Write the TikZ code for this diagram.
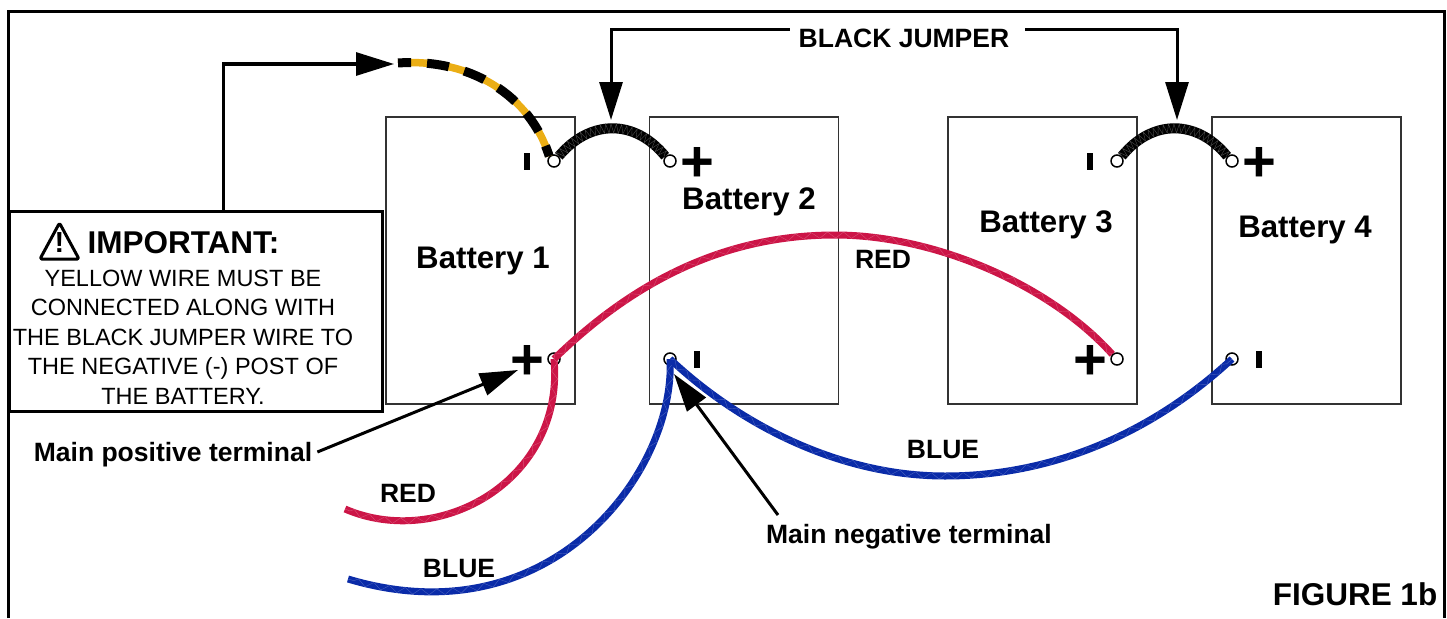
\documentclass[tikz,border=0pt]{standalone}
\usepackage{fontspec}
\setmainfont{Liberation Sans}
\usetikzlibrary{arrows.meta,decorations.pathmorphing}
\definecolor{wirered}{HTML}{CC1547}
\definecolor{wireblue}{HTML}{0A2BA8}
\definecolor{wireyellow}{HTML}{EBAE15}
\tikzset{
  battery/.style={draw=black!80,line width=1.6pt,minimum width=189pt,minimum height=287pt,inner sep=0pt},
  post/.style={circle,draw,fill=white,line width=1.5pt,minimum size=12pt,inner sep=0pt},
  plusmark/.style={font=\bfseries\fontsize{58}{58}\selectfont,inner sep=0pt,text height=40pt,text depth=0pt},
  minusmark/.style={fill=black,minimum width=6pt,minimum height=17pt,inner sep=0pt},
  batname/.style={font=\bfseries\fontsize{31.2}{31.2}\selectfont},
  wirename/.style={font=\bfseries\fontsize{26.5}{26.5}\selectfont,inner sep=0pt},
  leader/.style={->,line width=3pt},
  wire/.style={line width=7pt,postaction={decorate,draw=white,draw opacity=.25,line width=.4pt,
    decoration={zigzag,amplitude=3pt,segment length=16pt}}},
  jumperwire/.style={line width=10pt,postaction={decorate,draw=black!70,line width=.4pt,
    decoration={zigzag,amplitude=4.5pt,segment length=5pt}}},
}
\begin{document}
\begin{tikzpicture}[x=1pt,y=-1pt,>={Triangle[length=38pt,width=23pt]},node distance=27pt]
  \useasboundingbox (0,0) rectangle (1447,618);
  \draw[line width=3pt] (8,618) -- (8,12) -- (1444,12) -- (1444,618);
  % batteries
  \node[battery] (bat1) at (480.5,260.5) {};
  \node[battery] (bat2) at (744,260.5) {};
  \node[battery] (bat3) at (1042.5,260.5) {};
  \node[battery] (bat4) at (1306.5,260.5) {};
  \node[batname] (name1) at (483,261) {Battery 1};
  \node[batname] (name2) at (749,202) {Battery 2};
  \node[batname] (name3) at (1046,225) {Battery 3};
  \node[batname] (name4) at (1305,230) {Battery 4};
  % posts
  \node[post] (neg1) at (554,161) {};
  \node[post] (pos1) at (554,359) {};
  \node[post] (pos2) at (670,161) {};
  \node[post] (neg2) at (670,359) {};
  \node[post] (neg3) at (1117,161) {};
  \node[post] (pos3) at (1117,359) {};
  \node[post] (pos4) at (1232,161) {};
  \node[post] (neg4) at (1232,359) {};
  \node[minusmark] (m1) [left of=neg1] {};
  \node[plusmark] (p1) [left of=pos1] {+};
  \node[plusmark] (p2) [right of=pos2] {+};
  \node[minusmark] (m2) [right of=neg2] {};
  \node[minusmark] (m3) [left of=neg3] {};
  \node[plusmark] (p3) [left of=pos3] {+};
  \node[plusmark] (p4) [right of=pos4] {+};
  \node[minusmark] (m4) [right of=neg4] {};
  % wires
  \coordinate (yellowend) at (398,63);
  \coordinate (redend) at (345,509);
  \coordinate (blueend) at (348,579);
  \draw[line width=7.5pt,wireyellow] (neg1.north west) .. controls (530,95) and (470,58) .. (yellowend);
  \draw[line width=9pt,dash pattern=on 22pt off 16pt,dash phase=11pt] (neg1.north west) .. controls (530,95) and (470,58) .. (yellowend);
  \draw[jumperwire] (neg1.north east) .. controls (590,119) and (635,119) .. (pos2.north west);
  \draw[jumperwire] (neg3.north east) .. controls (1152,119) and (1197,119) .. (pos4.north west);
  \draw[wire,wirered] (pos1.center) .. controls (625,290) and (715,235) .. (835,235)
    .. controls (935,235) and (1050,285) .. (pos3.north west);
  \draw[wire,wirered] (pos1.center) .. controls (565,480) and (440,550) .. (redend);
  \draw[wire,wireblue] (neg2.center) .. controls (676,470) and (552,640) .. (blueend);
  \draw[wire,wireblue] (neg2.center) .. controls (740,425) and (840,476) .. (945,476)
    .. controls (1050,476) and (1150,435) .. (neg4.center);
  % labels
  \node[wirename] (red1) at (883,259) {RED};
  \node[wirename] (red2) at (408,493) {RED};
  \node[wirename] (blue1) at (943,450) {BLUE};
  \node[wirename] (blue2) at (459,569) {BLUE};
  \node[wirename] (jumper) at (904,38) {BLACK JUMPER};
  \node[wirename] (mainpos) at (173,455) {Main positive terminal};
  \node[wirename] (mainneg) at (909,537) {Main negative terminal};
  \node[font=\bfseries\fontsize{31.5}{31.5}\selectfont,inner sep=0pt] (figname) at (1355,594) {FIGURE 1b};
  % notice
  \node[draw,fill=white,line width=3pt,minimum width=373pt,minimum height=200pt,inner sep=0pt] (notice) at (195.5,311) {};
  \node[font=\bfseries\fontsize{31.5}{31.5}\selectfont,inner sep=0pt] (heading) at (183.5,243) {IMPORTANT:};
  \node[align=center,inner sep=0pt,font=\fontsize{23.5}{29.5}\selectfont] (noticetext) at (183,337)
    {YELLOW WIRE MUST BE\\CONNECTED ALONG WITH\\THE BLACK JUMPER WIRE TO\\THE NEGATIVE (-) POST OF\\THE BATTERY.};
  \draw[line width=3pt,line join=round,rounded corners=1.5pt] (59.5,223) -- (79,259) -- (40,259) -- cycle;
  \node[font=\bfseries\fontsize{29}{29}\selectfont,inner sep=0pt] (warn) at (59.5,243) {!};
  % arrows
  \coordinate (jog) at (223,64);
  \coordinate (yellowtip) at (394,64);
  \coordinate (jumpl) at (611,30);
  \coordinate (jumpr) at (1177,30);
  \coordinate (tipl) at (611,120);
  \coordinate (tipr) at (1177,120);
  \coordinate (postip) at (518,370);
  \coordinate (negtip) at (674,374);
  \coordinate (negtail) at (778,515);
  \draw[leader] (notice.north -| jog) -- (jog) -- (yellowtip);
  \draw[leader] (jumper.west) ++(-9,-8) -- (jumpl) -- (tipl);
  \draw[leader] (jumper.east) ++(16,-8) -- (jumpr) -- (tipr);
  \draw[leader] (mainpos.east) ++(5,-3) -- (postip);
  \draw[leader] (negtail) -- (negtip);
\end{tikzpicture}
\end{document}
